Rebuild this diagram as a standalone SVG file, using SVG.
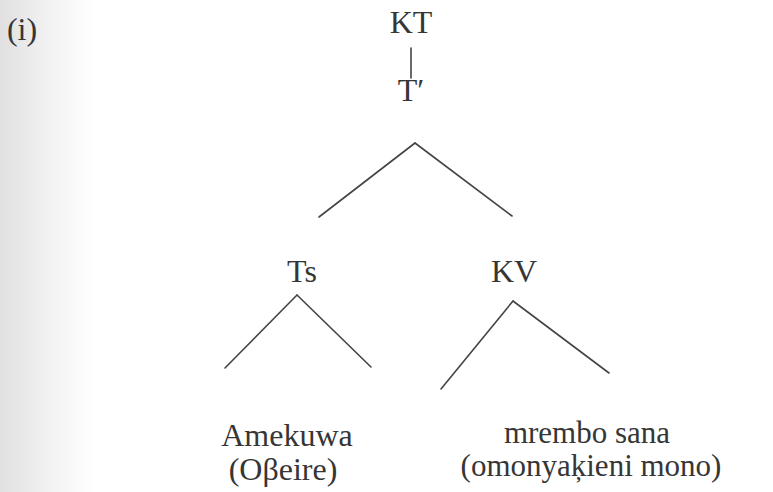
<svg xmlns="http://www.w3.org/2000/svg" width="773" height="492" viewBox="0 0 773 492">
  <style>
    .lbl { font-family: 'Liberation Serif', 'Times New Roman', Times, serif; font-size: 32px; fill: #363636; text-anchor: middle; }
    .leaf { font-size: 31px; }
    .leaf-l { font-size: 32px; }
    .edge { stroke: #444; stroke-width: 1.6; fill: none; stroke-linecap: round; }
  </style>
  <defs>
    <linearGradient id="edgeShade" x1="0" y1="0" x2="1" y2="0">
      <stop offset="0" stop-color="#e0e0e0"/>
      <stop offset="0.45" stop-color="#f0f0f0"/>
      <stop offset="1" stop-color="#ffffff"/>
    </linearGradient>
  </defs>
  <rect width="773" height="492" fill="#ffffff"/>
  <rect x="0" y="0" width="95" height="492" fill="url(#edgeShade)"/>

  <text class="lbl" x="22" y="40">(i)</text>

  <g id="connectors">
    <line class="edge" x1="411" y1="48" x2="411" y2="78"/>
    <line class="edge" x1="415" y1="143" x2="319" y2="217"/>
    <line class="edge" x1="415" y1="143" x2="512" y2="216"/>
    <line class="edge" x1="297" y1="295" x2="225" y2="368"/>
    <line class="edge" x1="297" y1="295" x2="371" y2="367"/>
    <line class="edge" x1="513" y1="301" x2="441" y2="389"/>
    <line class="edge" x1="513" y1="301" x2="609" y2="373"/>
  </g>

  <g id="node-KT"><text class="lbl" x="411" y="33">KT</text></g>
  <g id="node-Tbar"><text class="lbl" x="411" y="101">T′</text></g>
  <g id="node-Ts"><text class="lbl" x="302" y="282">Ts</text></g>
  <g id="node-KV"><text class="lbl" x="514" y="282">KV</text></g>
  <g id="leaf-Ts">
    <text class="lbl leaf-l" x="287" y="446">Amekuwa</text>
    <text class="lbl leaf-l" x="283" y="480">(Oβeire)</text>
  </g>
  <g id="leaf-KV">
    <text class="lbl leaf" x="587" y="443">mrembo sana</text>
    <text class="lbl leaf" x="591" y="476">(omonyaķieni mono)</text>
  </g>
</svg>
